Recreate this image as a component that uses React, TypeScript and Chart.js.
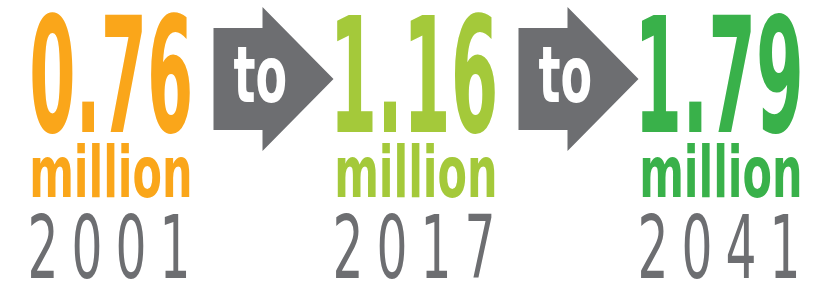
import React, { useEffect, useRef } from "react";
import { Chart, registerables } from "chart.js";

Chart.register(...registerables);

const categories = ["2001", "2017", "2041"];
const values = [0.76, 1.16, 1.79];
const unitLabel = "million";
const connector = "to";
const valueColors = ["#FAA61A", "#A4C93A", "#39B14A"];
const greyColor = "#6D6E71";

const BOLD_FAMILY = '"Liberation Sans Narrow", "DejaVu Sans Condensed", "DejaVu Sans", sans-serif';
const THIN_FAMILY = '"Liberation Sans Narrow", "DejaVu Sans Condensed", "DejaVu Sans", sans-serif';

function drawFit(
  ctx: CanvasRenderingContext2D,
  text: string,
  cx: number,
  baseline: number,
  height: number,
  width: number,
  weight: string,
  family: string,
  color: string
) {
  ctx.save();
  ctx.font = `${weight} 100px ${family}`;
  let m = ctx.measureText(text);
  const size = (100 * height) / m.actualBoundingBoxAscent;
  ctx.font = `${weight} ${size}px ${family}`;
  m = ctx.measureText(text);
  const w = m.actualBoundingBoxLeft + m.actualBoundingBoxRight;
  const sx = width / w;
  ctx.translate(cx, baseline);
  ctx.scale(sx, 1);
  ctx.textAlign = "left";
  ctx.textBaseline = "alphabetic";
  ctx.fillStyle = color;
  ctx.fillText(text, -w / 2 + m.actualBoundingBoxLeft, 0);
  ctx.restore();
}

function drawYear(ctx: CanvasRenderingContext2D, year: string, cx: number) {
  ctx.save();
  ctx.font = `normal 100px ${THIN_FAMILY}`;
  const m0 = ctx.measureText("0");
  const size = (100 * 65) / m0.actualBoundingBoxAscent;
  ctx.font = `normal ${size}px ${THIN_FAMILY}`;
  const m = ctx.measureText("0");
  const gw = m.actualBoundingBoxLeft + m.actualBoundingBoxRight;
  const sx = 25 / gw;
  const pitch = 44;
  const n = year.length;
  ctx.fillStyle = greyColor;
  ctx.textAlign = "center";
  ctx.textBaseline = "alphabetic";
  for (let j = 0; j < n; j++) {
    const x = cx + (j - (n - 1) / 2) * pitch;
    ctx.save();
    ctx.translate(x, 278);
    ctx.scale(sx, 1);
    ctx.fillText(year[j], 0, 0);
    ctx.restore();
  }
  ctx.restore();
}

const infographicPlugin = {
  id: "infographic",
  afterDatasetsDraw(chart: any) {
    const ctx: CanvasRenderingContext2D = chart.ctx;
    const xs = chart.scales.x;
    const centers = categories.map((_, i) => xs.getPixelForValue(i));

    // arrows between blocks
    for (let i = 0; i < centers.length - 1; i++) {
      const m = (centers[i] + centers[i + 1]) / 2;
      ctx.save();
      ctx.fillStyle = greyColor;
      ctx.beginPath();
      ctx.moveTo(m - 50, 28);
      ctx.lineTo(m - 1, 28);
      ctx.lineTo(m - 1, 7);
      ctx.lineTo(m + 70, 79);
      ctx.lineTo(m - 1, 151);
      ctx.lineTo(m - 1, 130);
      ctx.lineTo(m - 50, 130);
      ctx.closePath();
      ctx.fill();
      ctx.restore();
      drawFit(ctx, connector, m - 4, 102, 55, 52, "bold", BOLD_FAMILY, "#FFFFFF");
    }

    centers.forEach((cx, i) => {
      drawFit(ctx, values[i].toFixed(2), cx, 132, 120, 158, "bold", BOLD_FAMILY, valueColors[i]);
      drawFit(ctx, unitLabel, cx, 197, 54, 157, "bold", BOLD_FAMILY, valueColors[i]);
      drawYear(ctx, categories[i], cx - 2);
    });
  },
};

export default function App() {
  const ref = useRef<HTMLCanvasElement | null>(null);
  useEffect(() => {
    if (!ref.current) return;
    const chart = new Chart(ref.current, {
      type: "bar",
      data: {
        labels: categories,
        datasets: [
          {
            label: unitLabel,
            data: values,
            backgroundColor: "rgba(0,0,0,0)",
            borderWidth: 0,
          },
        ],
      },
      options: {
        responsive: false,
        animation: false,
        layout: { padding: { left: 111, right: 112, top: 0, bottom: 0 } },
        plugins: { legend: { display: false }, tooltip: { enabled: false } },
        scales: {
          x: { display: false, offset: false },
          y: { display: false, min: 0, max: 2 },
        },
      },
      plugins: [infographicPlugin],
    });
    return () => chart.destroy();
  }, []);
  return (
    <div style={{ position: "absolute", left: 0, top: 0, width: 833, height: 288, background: "#fff" }}>
      <canvas ref={ref} width={833} height={288} style={{ display: "block" }} />
    </div>
  );
}
